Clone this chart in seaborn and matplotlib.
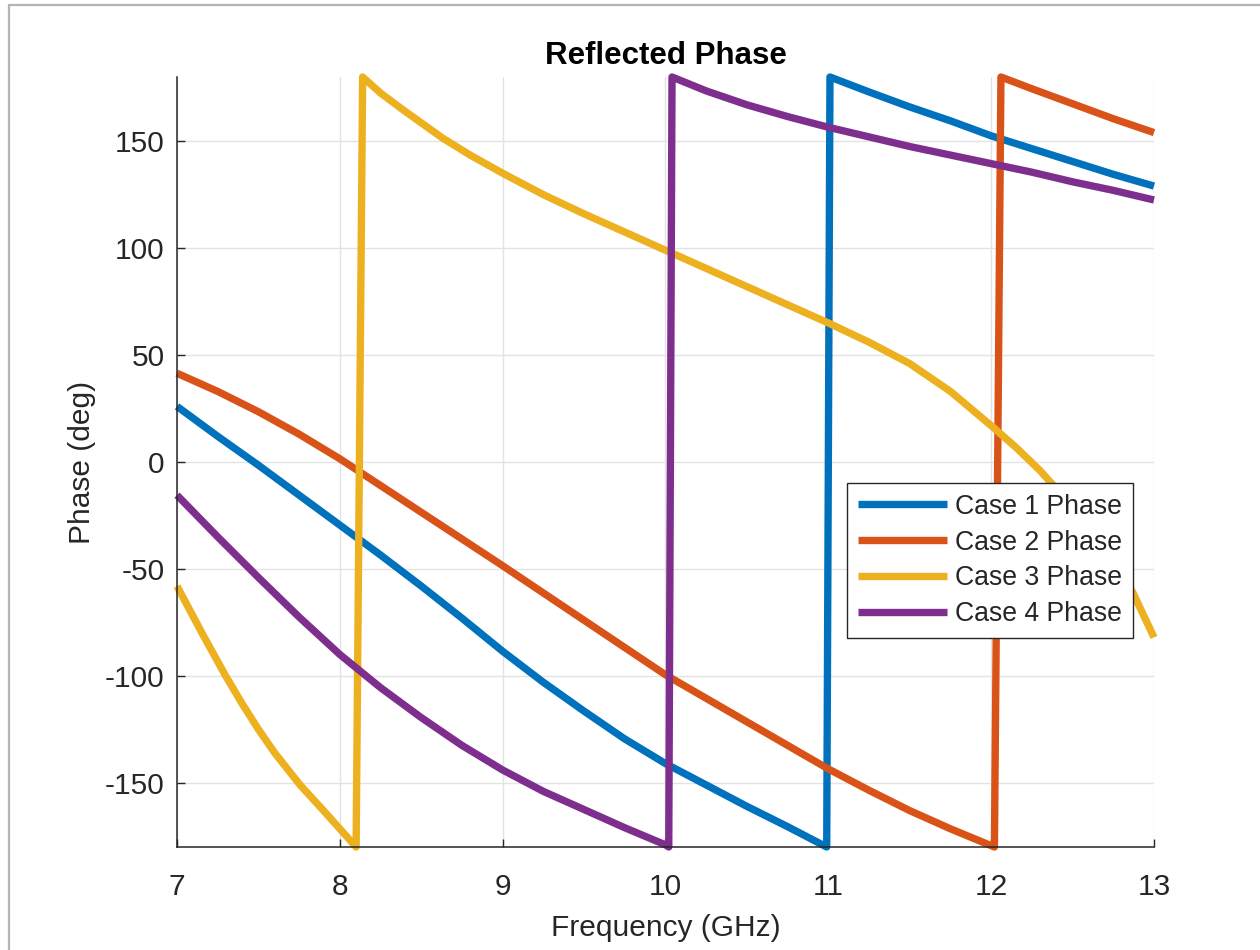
import numpy as np
import pandas as pd
import matplotlib
matplotlib.use("Agg")
import matplotlib.pyplot as plt
from matplotlib.lines import Line2D
import seaborn as sns

# ---------------- data ----------------
case1_freq = [7.0, 7.25, 7.5, 7.75, 8.0, 8.25, 8.5, 8.75, 9.0, 9.25, 9.5, 9.75, 10.0,
              10.25, 10.5, 10.75, 10.99, 11.01, 11.25, 11.5, 11.75, 12.0, 12.25, 12.5, 12.75, 13.0]
case1_phase = [26, 12, -1.5, -15.5, -29.5, -43.5, -58, -73, -88.5, -103, -116.5, -129.5, -141,
               -151, -161, -170.5, -180, 180, 173, 166, 159.5, 152.5, 146.5, 140.5, 134.5, 129]

case2_freq = [7.0, 7.25, 7.5, 7.75, 8.0, 8.5, 9.0, 9.5, 10.0, 10.5, 11.0, 11.25, 11.5, 11.75,
              12.02, 12.06, 12.25, 12.5, 12.75, 13.0]
case2_phase = [41.5, 33, 23.5, 13, 1.5, -23.5, -48.5, -74, -99.5, -121.5, -143.5, -153.5, -163, -171.5,
               -180, 180, 174.5, 167.5, 160.5, 154]

case3_freq = [7.0, 7.15, 7.295, 7.4, 7.5, 7.6, 7.756, 7.9, 8.0, 8.1, 8.14, 8.25, 8.4, 8.63, 8.8,
              9.0, 9.25, 9.5, 9.75, 10.0, 10.25, 10.5, 10.75, 11.0, 11.25, 11.5, 11.75, 12.0,
              12.15, 12.3, 12.5, 12.75, 12.87, 13.0]
case3_phase = [-58, -79.5, -99.5, -113, -125, -136, -151, -163, -171.5, -180, 180, 172.5, 164, 151.5, 143.5,
               135, 125, 116, 107.5, 99, 90.5, 82, 73.5, 65, 56, 46, 33, 17,
               7, -4, -21, -46, -61, -82]

case4_freq = [7.0, 7.25, 7.5, 7.75, 8.0, 8.25, 8.5, 8.75, 9.0, 9.25, 9.5, 9.75, 10.0, 10.02,
              10.04, 10.25, 10.5, 10.75, 11.0, 11.25, 11.5, 11.75, 12.0, 12.25, 12.5, 12.75, 13.0]
case4_phase = [-15.5, -35, -54, -72.5, -90, -105.5, -119.5, -132.5, -144, -154, -162.5, -171, -179, -180,
               180, 173.5, 167, 161.5, 156.5, 152, 147.5, 143.5, 139.5, 135.5, 131, 127, 122.5]

case_labels = ["Case 1 Phase", "Case 2 Phase", "Case 3 Phase", "Case 4 Phase"]
colors = ["#0072BD", "#D95319", "#EDB120", "#7E2F8E"]

x_ticks = [7, 8, 9, 10, 11, 12, 13]
y_ticks = [-150, -100, -50, 0, 50, 100, 150]

# ---------------- long-form table ----------------
frames = []
for lab, f, p in zip(case_labels,
                     [case1_freq, case2_freq, case3_freq, case4_freq],
                     [case1_phase, case2_phase, case3_phase, case4_phase]):
    frames.append(pd.DataFrame({"Frequency": f, "Phase": p, "Case": lab}))
df = pd.concat(frames, ignore_index=True)

# ---------------- style ----------------
sns.set_theme(style="white")
plt.rcParams["font.family"] = ["Liberation Sans", "DejaVu Sans"]

fig = plt.figure(figsize=(12.6, 9.5), dpi=100)
ax = fig.add_axes([177 / 1260, 1 - 847 / 950, (1154 - 177) / 1260, (847 - 77) / 950])

LW = 5.3
sns.lineplot(data=df, x="Frequency", y="Phase", hue="Case", hue_order=case_labels,
             palette=colors, estimator=None, sort=False, linewidth=LW, ax=ax, legend=True)

for ln in ax.lines:
    ln.set_solid_joinstyle("round")
    ln.set_solid_capstyle("butt")
    ln.set_clip_on(False)

ax.set_xlim(7, 13)
ax.set_ylim(-180, 180)
ax.set_xticks(x_ticks)
ax.set_yticks(y_ticks)
ax.set_xticklabels([str(t) for t in x_ticks])
ax.set_yticklabels([str(t) for t in y_ticks])

ax.grid(True, color="#e3e3e3", linewidth=1.0)
ax.set_axisbelow(True)

for s in ["top", "right"]:
    ax.spines[s].set_visible(False)
for s in ["left", "bottom"]:
    ax.spines[s].set_color("#262626")
    ax.spines[s].set_linewidth(1.1)

ax.tick_params(axis="both", direction="in", length=6, width=1.0, color="#262626",
               labelcolor="#262626", labelsize=21.5)
ax.tick_params(axis="x", pad=19)
ax.tick_params(axis="y", pad=9)
ax.tick_params(axis="x", which="both", top=False, bottom=True)
ax.tick_params(axis="y", which="both", left=True, right=False)

ax.set_xlabel("Frequency (GHz)", fontsize=21.5, color="#262626", labelpad=9)
ax.set_ylabel("Phase (deg)", fontsize=21.5, color="#262626", labelpad=6)
ax.set_title("Reflected Phase", fontsize=22.5, fontweight="bold", color="black", pad=9.5)

old = ax.get_legend()
handles = old.legend_handles
labels = [t.get_text() for t in old.get_texts()]
old.remove()
leg = ax.legend(handles, labels, loc="upper right",
                bbox_to_anchor=((1133 - 177) / 977, (847 - 483) / 770),
                borderaxespad=0, fontsize=19.2, frameon=True, fancybox=False,
                edgecolor="#262626", framealpha=1, handlelength=3.35,
                handletextpad=0.3, labelspacing=0.37, borderpad=0.4)
leg.get_frame().set_linewidth(1.0)
for h in leg.get_lines():
    h.set_linewidth(LW)
    h.set_solid_capstyle("butt")

# outer grey frame (top and left visible)
fig.add_artist(Line2D([9 / 1260, 1.0], [1 - 5 / 950, 1 - 5 / 950], transform=fig.transFigure,
                      color="#b4b4b4", linewidth=1.6))
fig.add_artist(Line2D([9 / 1260, 9 / 1260], [0.0, 1 - 5 / 950], transform=fig.transFigure,
                      color="#b4b4b4", linewidth=1.6))

fig.savefig("out.png", dpi=100, facecolor="white")
